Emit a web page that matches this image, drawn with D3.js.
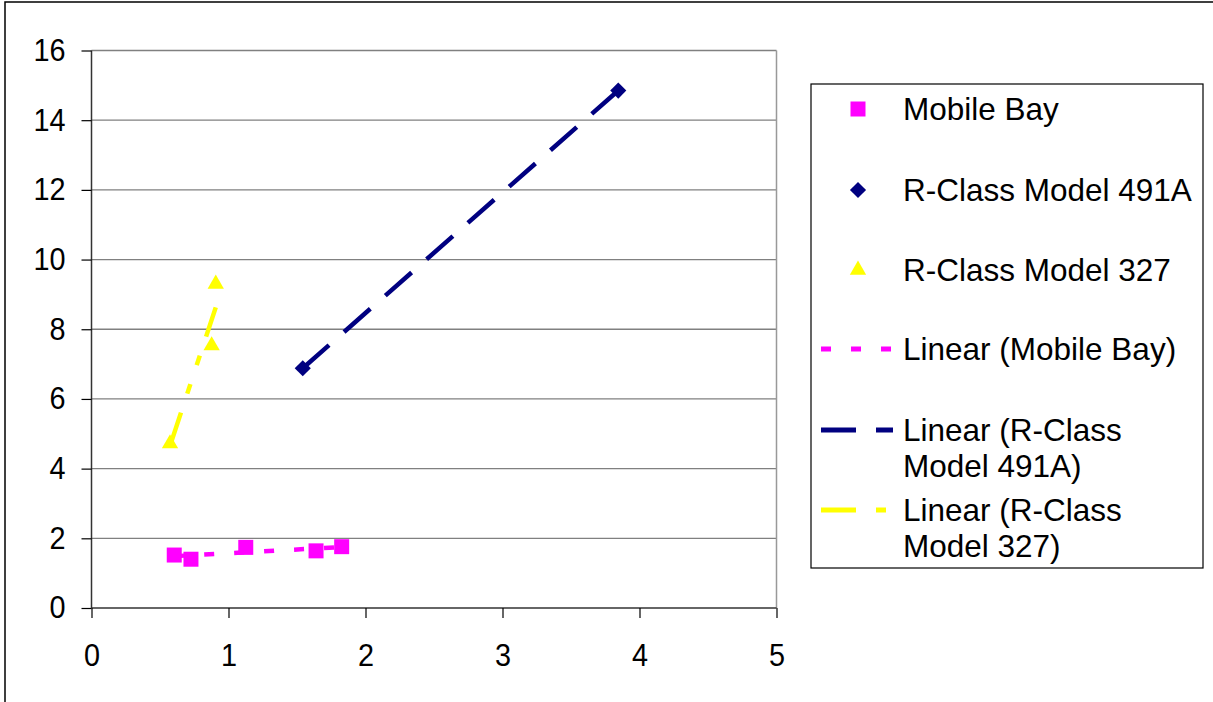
<!DOCTYPE html>
<html><head><meta charset="utf-8">
<script src="https://cdn.jsdelivr.net/npm/d3@7"></script>
<style>html,body{margin:0;padding:0;background:#fff;}svg{display:block;}</style>
</head><body>
<script>
const seriesNames = ["Mobile Bay", "R-Class Model 491A", "R-Class Model 327"];
const mobileBayX = [0.604, 0.726, 1.126, 1.639, 1.826];
const mobileBayY = [1.52, 1.40, 1.74, 1.64, 1.76];
const model491AX = [1.542, 3.845];
const model491AY = [6.88, 14.85];
const model327X = [0.573, 0.877, 0.907];
const model327Y = [4.72, 7.53, 9.30];
const xTicks = [0, 1, 2, 3, 4, 5];
const yTicks = [0, 2, 4, 6, 8, 10, 12, 14, 16];
const colors = ["#FF00FF", "#000080", "#FFFF00"];
const dashes = ["10,20", "35,20", "35,20,10,20,10,20"];
const legendLabels = [["Mobile Bay"], ["R-Class Model 491A"], ["R-Class Model 327"],
  ["Linear (Mobile Bay)"], ["Linear (R-Class", "Model 491A)"], ["Linear (R-Class", "Model 327)"]];

const W = 1213, H = 702;
const svg = d3.select("body").append("svg").attr("width", W).attr("height", H);
const font = "'Liberation Sans', Arial, sans-serif";

// outer chart border
svg.append("rect").attr("x", 5).attr("y", 2).attr("width", 1300).attr("height", 800)
  .attr("fill", "#fff").attr("stroke", "#000").attr("stroke-width", 1.5);

const x = d3.scaleLinear().domain([0, 5]).range([91.5, 776.5]);
const y = d3.scaleLinear().domain([0, 16]).range([608, 50.5]);

// gridlines
svg.append("g").selectAll("line").data(yTicks.filter(d => d > 0)).join("line")
  .attr("x1", x(0)).attr("x2", x(5)).attr("y1", d => y(d)).attr("y2", d => y(d))
  .attr("stroke", "#808080").attr("stroke-width", 1.3);
// right border of plot
svg.append("line").attr("x1", x(5)).attr("x2", x(5)).attr("y1", y(16)).attr("y2", y(0))
  .attr("stroke", "#999").attr("stroke-width", 1.5);

// axes
const sx = 0.93;
const yAxis = svg.append("g").attr("transform", `translate(${x(0)},0)`)
  .call(d3.axisLeft(y).tickValues(yTicks).tickSize(10).tickPadding(16).tickFormat(d3.format("d")));
const xAxis = svg.append("g").attr("transform", `translate(0,${y(0)})`)
  .call(d3.axisBottom(x).tickValues(xTicks).tickSize(10).tickPadding(26).tickFormat(d3.format("d")));
[yAxis, xAxis].forEach(g => {
  g.select(".domain").attr("stroke", "#333").attr("stroke-width", 1.5);
  g.selectAll(".tick line").attr("stroke", "#000").attr("stroke-width", 1.2);
  g.selectAll("text").attr("font-family", font).attr("font-size", 31).attr("fill", "#000");
});
yAxis.selectAll(".tick text").attr("x", -26 / sx).attr("transform", `scale(${sx},1)`);
xAxis.selectAll(".tick text").attr("transform", `scale(${sx},1)`);
yAxis.select(".domain").attr("d", `M0,${y(16)}V${y(0)}`);
xAxis.select(".domain").attr("d", `M${x(0)},0H${x(5)}`);

const data = [[mobileBayX, mobileBayY], [model491AX, model491AY], [model327X, model327Y]];

// trendlines (least squares)
data.forEach(([xs, ys], i) => {
  const mx = d3.mean(xs), my = d3.mean(ys);
  const sxy = d3.sum(xs, (v, k) => (v - mx) * (ys[k] - my));
  const sxx = d3.sum(xs, v => (v - mx) * (v - mx));
  const slope = sxy / sxx, b = my - slope * mx;
  const x0 = d3.min(xs), x1 = d3.max(xs);
  svg.append("line").attr("x1", x(x0)).attr("y1", y(slope * x0 + b))
    .attr("x2", x(x1)).attr("y2", y(slope * x1 + b))
    .attr("stroke", colors[i]).attr("stroke-width", 4.5).attr("stroke-dasharray", dashes[i]);
});

// markers
const markerPath = [
  d3.symbol().type(d3.symbolSquare).size(225)(),
  d3.symbol().type(d3.symbolSquare).size(130)(),
  d3.symbol().type(d3.symbolTriangle).size(115)()
];
const markerRot = [0, 45, 0];
data.forEach(([xs, ys], i) => {
  svg.append("g").selectAll("path").data(xs.map((v, k) => [v, ys[k]])).join("path")
    .attr("d", markerPath[i])
    .attr("transform", d => `translate(${x(d[0])},${y(d[1])}) rotate(${markerRot[i]})`)
    .attr("fill", colors[i]);
});

// legend
const lg = svg.append("g");
lg.append("rect").attr("x", 811).attr("y", 84).attr("width", 392).attr("height", 484)
  .attr("fill", "#fff").attr("stroke", "#000").attr("stroke-width", 1.2);
const rowY = [109, 190, 270, 349, 430, 510];
legendLabels.forEach((lines, i) => {
  if (i < 3) {
    lg.append("path").attr("d", markerPath[i])
      .attr("transform", `translate(858,${rowY[i]}) rotate(${markerRot[i]})`).attr("fill", colors[i]);
  } else {
    lg.append("line").attr("x1", 821).attr("x2", 893).attr("y1", rowY[i]).attr("y2", rowY[i])
      .attr("stroke", colors[i - 3]).attr("stroke-width", 5).attr("stroke-dasharray", dashes[i - 3]);
  }
  const t = lg.append("text").attr("x", 903).attr("y", rowY[i] + 11)
    .attr("font-family", font).attr("font-size", 31.5).attr("fill", "#000");
  lines.forEach((s, k) => t.append("tspan").attr("x", 903).attr("dy", k === 0 ? 0 : 35.5).text(s));
});
</script>
</body></html>
